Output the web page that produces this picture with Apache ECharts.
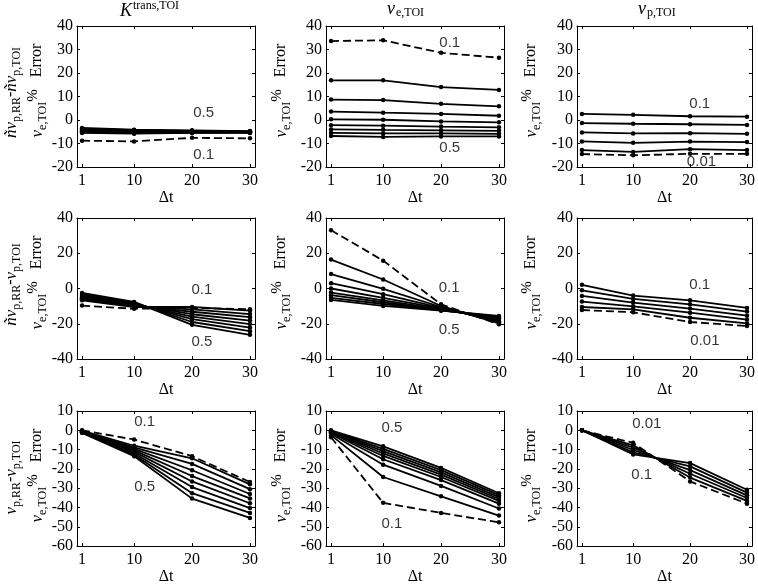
<!DOCTYPE html>
<html><head><meta charset="utf-8">
<script src="https://cdn.jsdelivr.net/npm/echarts@6/dist/echarts.min.js"></script>
<style>html,body{margin:0;padding:0;background:#fff}#c{width:758px;height:586px}</style>
</head><body><div id="c"></div>
<script>
// ---------------- data ----------------
const dt = [1, 10, 20, 30];
const xTickValues = [1, 10, 20, 30];
const veLevels = ['0.1', '0.15', '0.2', '0.25', '0.3', '0.35', '0.4', '0.45', '0.5'];
const vpLevels = ['0.01', '0.02', '0.04', '0.06', '0.08', '0.1'];

// row 1 : Ktrans, ve, vp  (first series = dashed)
const kTransRow1 = [
  [-8.8, -9.1, -7.6, -7.8],
  [-5.5, -5.8, -5.5, -5.5],
  [-5.2, -5.6, -5.4, -5.4],
  [-4.9, -5.3, -5.2, -5.3],
  [-4.6, -5.1, -5.0, -5.2],
  [-4.3, -4.8, -4.9, -5.1],
  [-4.0, -4.6, -4.7, -5.0],
  [-3.7, -4.3, -4.6, -4.8],
  [-3.4, -4.1, -4.4, -4.7]
];
const veRow1 = [
  [33.6, 33.9, 28.6, 26.5],
  [16.9, 16.9, 14.0, 12.8],
  [8.7, 8.5, 6.9, 5.8],
  [3.6, 3.1, 2.6, 1.8],
  [0.3, 0.1, -0.6, -1.0],
  [-2.2, -2.4, -2.8, -3.1],
  [-4.0, -4.2, -4.4, -4.6],
  [-5.5, -5.7, -5.7, -5.9],
  [-6.8, -7.2, -7.0, -7.0]
];
const vpRow1 = [
  [-14.5, -15.0, -14.4, -14.4],
  [-12.8, -13.6, -12.4, -12.8],
  [-9.1, -9.7, -9.2, -9.4],
  [-5.3, -5.7, -5.6, -5.9],
  [-1.3, -1.6, -1.8, -2.1],
  [2.6, 2.2, 1.6, 1.4]
];
// row 2
const kTransRow2 = [
  [-9.7, -11.5, -11.0, -11.8],
  [-6.7, -10.5, -10.5, -12.5],
  [-6.1, -10.1, -11.9, -14.5],
  [-5.5, -9.7, -13.2, -16.3],
  [-4.9, -9.3, -14.6, -18.2],
  [-4.3, -8.9, -16.0, -20.2],
  [-3.7, -8.5, -17.4, -22.2],
  [-3.1, -8.0, -19.0, -24.2],
  [-2.5, -7.6, -20.6, -26.3]
];
const veRow2 = [
  [33.1, 15.8, -9.0, -20.3],
  [16.4, 5.1, -9.9, -19.8],
  [8.2, -0.2, -10.5, -19.2],
  [3.0, -3.2, -11.0, -18.7],
  [0.0, -5.3, -11.4, -17.9],
  [-2.3, -6.7, -11.8, -17.1],
  [-3.8, -7.8, -12.2, -16.4],
  [-5.3, -8.8, -12.4, -16.0],
  [-6.5, -9.9, -12.6, -15.6]
];
const vpRow2 = [
  [-12.2, -13.5, -19.0, -21.3],
  [-10.5, -11.8, -16.6, -19.8],
  [-7.4, -10.1, -13.7, -17.7],
  [-4.2, -8.0, -11.4, -15.4],
  [-1.0, -5.9, -9.0, -13.1],
  [2.1, -4.0, -6.7, -11.0]
];
// row 3
const kTransRow3 = [
  [0.0, -4.8, -13.4, -26.8],
  [-0.2, -8.0, -14.5, -28.0],
  [-0.4, -8.8, -17.4, -30.5],
  [-0.5, -9.6, -20.7, -33.0],
  [-0.7, -10.4, -23.7, -35.3],
  [-0.8, -11.2, -26.5, -37.8],
  [-1.0, -12.0, -29.4, -40.3],
  [-1.1, -12.7, -32.6, -42.8],
  [-1.3, -13.4, -35.4, -45.4]
];
const veRow3 = [
  [-3.6, -37.6, -42.8, -47.7],
  [-2.5, -24.2, -34.2, -44.2],
  [-1.8, -17.8, -28.8, -40.5],
  [-1.3, -15.0, -25.8, -38.0],
  [-1.0, -13.3, -24.2, -36.6],
  [-0.7, -12.0, -23.0, -35.6],
  [-0.5, -10.8, -21.8, -34.6],
  [-0.3, -9.6, -20.6, -33.6],
  [0.0, -8.3, -19.5, -32.6]
];
const vpRow3 = [
  [0.0, -6.5, -26.5, -38.0],
  [0.0, -7.8, -24.5, -36.6],
  [0.0, -9.0, -22.5, -35.1],
  [0.0, -10.2, -20.6, -33.7],
  [0.0, -11.4, -18.7, -32.3],
  [0.0, -12.5, -17.0, -30.8]
];
const rowYTicks = [
  [-20, 40, 10],
  [-40, 40, 20],
  [-60, 10, 10]
];
const panelTexts = [
  [['0.5', '0.1'], ['0.1', '0.5'], ['0.1', '0.01']],
  [['0.1', '0.5'], ['0.1', '0.5'], ['0.1', '0.01']],
  [['0.1', '0.5'], ['0.5', '0.1'], ['0.01', '0.1']]
];

// ---------------- layout ----------------
const colLeft = [77, 326, 577];
const rowTop = [26, 218, 411];
const W = 178, H = 141;
// annotation anchor points (data units) per panel
const annotAt = [
  [[[22, 3], [22, -15]], [[21.5, 32.8], [21.5, -11.9]], [[21.7, 6.8], [22, -17.9]]],
  [[[21.7, -0.8], [21.7, -30.5]], [[21.4, 0.3], [21.4, -23.6]], [[21.7, 2.1], [22.6, -29.9]]],
  [[[11.8, 4.3], [11.8, -29.3]], [[11.5, 1.3], [11.5, -48.4]], [[12.4, 3.3], [11.5, -23.3]]]
];

const panels = [
  [kTransRow1, veRow1, vpRow1],
  [kTransRow2, veRow2, vpRow2],
  [kTransRow3, veRow3, vpRow3]
];
const levelsByCol = [veLevels, veLevels, vpLevels];

const SERIF = '"Liberation Serif", "DejaVu Serif", serif';
const SANS = '"Liberation Sans", Arial, sans-serif';

const grid = [], xAxis = [], yAxis = [], series = [];
let gi = 0;
for (let r = 0; r < 3; r++) {
  for (let c = 0; c < 3; c++) {
    grid.push({left: colLeft[c], top: rowTop[r], width: W, height: H, containLabel: false});
    const xBase = {
      type: 'value', gridIndex: gi, min: 0.13, max: 30.87,
      splitLine: {show: false},
      axisLine: {show: true, onZero: false, lineStyle: {color: '#000', width: 1}},
      axisTick: {show: true, inside: true, length: 3, customValues: xTickValues, lineStyle: {color: '#000'}},
    };
    xAxis.push(Object.assign({}, xBase, {
      position: 'bottom',
      axisLabel: {show: true, customValues: xTickValues, margin: 6, color: '#000', fontFamily: SERIF, fontSize: 16},
      name: 'Δt', nameLocation: 'middle', nameGap: 21,
      nameTextStyle: {color: '#000', fontFamily: SERIF, fontSize: 16}
    }));
    xAxis.push(Object.assign({}, xBase, {position: 'top', axisLabel: {show: false}}));
    const yr = rowYTicks[r];
    const yBase = {
      type: 'value', gridIndex: gi, min: yr[0], max: yr[1], interval: yr[2],
      splitLine: {show: false},
      axisLine: {show: true, onZero: false, lineStyle: {color: '#000', width: 1}},
      axisTick: {show: true, inside: true, length: 3, lineStyle: {color: '#000'}},
    };
    yAxis.push(Object.assign({}, yBase, {
      position: 'left',
      axisLabel: {show: true, margin: 4, color: '#000', fontFamily: SERIF, fontSize: 16}
    }));
    yAxis.push(Object.assign({}, yBase, {position: 'right', axisLabel: {show: false}}));

    const data = panels[r][c];
    const levels = levelsByCol[c];
    data.forEach((vals, k) => {
      series.push({
        type: 'line', name: levels[k], xAxisIndex: gi * 2, yAxisIndex: gi * 2,
        data: dt.map((t, i) => [t, vals[i]]),
        symbol: 'circle', symbolSize: 4.5, showSymbol: true,
        itemStyle: {color: '#000'},
        lineStyle: {color: '#000', width: 1.8, type: k === 0 ? [8, 4] : 'solid'},
        animation: false, z: k === 0 ? 3 : 2
      });
    });
    const txt = panelTexts[r][c];
    series.push({
      type: 'scatter', xAxisIndex: gi * 2, yAxisIndex: gi * 2,
      symbolSize: 0, silent: true, animation: false,
      data: txt.map((t, i) => [annotAt[r][c][i][0], annotAt[r][c][i][1], t]),
      label: {show: true, position: 'inside', formatter: p => p.data[2],
        color: '#000', fontFamily: SANS, fontSize: 15},
      z: 5
    });
    gi++;
  }
}

// ---------------- titles & y-axis names ----------------
const graphic = [];
const titleRich = {
  K: {fontFamily: SERIF, fontStyle: 'italic', fontSize: 18, padding: [2, 1, 0, 0], verticalAlign: 'top'},
  sup: {fontFamily: SERIF, fontSize: 12, padding: [0, 0, 0, 0], verticalAlign: 'top'},
  v: {fontFamily: SERIF, fontStyle: 'italic', fontSize: 18, padding: [0, 1, 0, 0], verticalAlign: 'top'},
  sub: {fontFamily: SERIF, fontSize: 12, padding: [7, 0, 0, 0], verticalAlign: 'top'}
};
const titles = ['{K|K}{sup|trans,TOI}', '{v|v}{sub|e,TOI}', '{v|v}{sub|p,TOI}'];
const titleX = [120, 387, 638];
titles.forEach((t, c) => {
  graphic.push({type: 'text', left: titleX[c], top: 0,
    style: {text: t, rich: titleRich, fill: '#000', align: 'left', verticalAlign: 'top'}});
});

const ylabRich = {
  m: {fontFamily: SERIF, fontStyle: 'italic', fontSize: 17, padding: [4, 0, 0, 0], verticalAlign: 'top', fill: '#000'},
  n: {fontFamily: SERIF, fontSize: 16, padding: [4, 0, 0, 0], verticalAlign: 'top', fill: '#000'},
  s: {fontFamily: SERIF, fontSize: 12, padding: [12, 0, 0, 0], verticalAlign: 'top', fill: '#000'},
  p: {fontFamily: SERIF, fontSize: 15, padding: [1, 0, 0, 0], verticalAlign: 'top', fill: '#000'}
};
const yNameA = '{m|v}{s|e,TOI}{p|%}{n|   Error}';
const yNameB = [
  '{m|ñv}{s|p,RR}{n|-}{m|ñv}{s|p,TOI}',
  '{m|ñv}{s|p,RR}{n|-}{m|v}{s|p,TOI}',
  '{m|v}{s|p,RR}{n|-}{m|v}{s|p,TOI}'
];
const yNameAOffset = [34, 39, 40];
for (let r = 0; r < 3; r++) {
  for (let c = 0; c < 3; c++) {
    graphic.push({type: 'text', x: colLeft[c] - yNameAOffset[c] - 6, y: rowTop[r] + H / 2 - 6,
      rotation: Math.PI / 2,
      style: {text: yNameA, rich: ylabRich, fill: '#000', align: 'center', verticalAlign: 'middle'}});
  }
  graphic.push({type: 'text', x: 11, y: rowTop[r] + H / 2 - 4, rotation: Math.PI / 2,
    style: {text: yNameB[r], rich: ylabRich, fill: '#000', align: 'center', verticalAlign: 'middle'}});
}

const chart = echarts.init(document.getElementById('c'), null, {renderer: 'canvas'});
chart.setOption({
  backgroundColor: '#fff',
  animation: false,
  grid, xAxis, yAxis, series, graphic
});
</script></body></html>
